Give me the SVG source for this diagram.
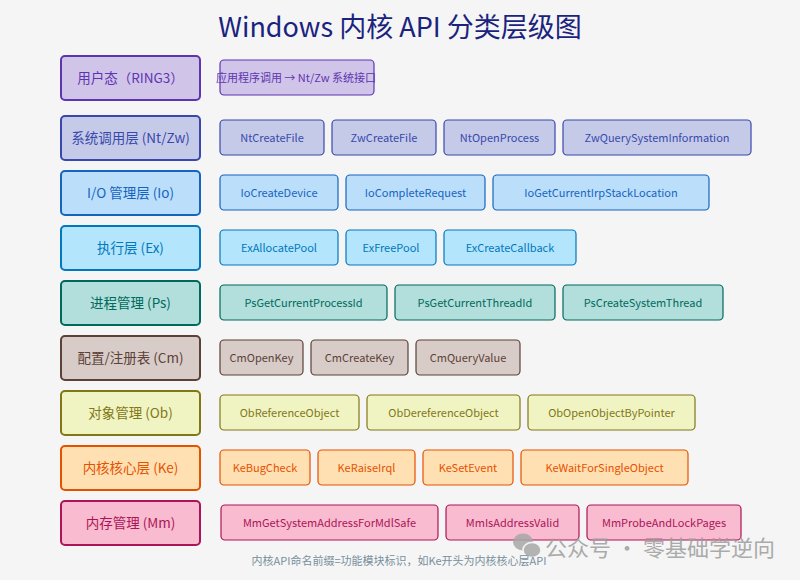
<svg xmlns="http://www.w3.org/2000/svg" width="800" height="580" viewBox="0 0 800 580">
<style>
text{font-family:"Noto Sans CJK SC","Noto Sans",sans-serif;text-anchor:middle;dominant-baseline:central;transform:translateY(-1px)}
.title{font-size:27px;fill:#1a237e}
.lbl{font-size:13.5px}
.api{font-size:11px}
.L{stroke-width:2}
.R{stroke-width:1.2}
.foot{font-size:11px;fill:#78909c}
.wm{font-size:22px;fill:#9e9e9e}
.u rect{fill:#d1c4e9;stroke:#5e35b1}.u text{fill:#5e35b1}
.n rect{fill:#c5cae9;stroke:#3949ab}.n text{fill:#3949ab}
.i rect{fill:#bbdefb;stroke:#1565c0}.i text{fill:#1565c0}
.e rect{fill:#b3e5fc;stroke:#0277bd}.e text{fill:#0277bd}
.p rect{fill:#b2dfdb;stroke:#00695c}.p text{fill:#00695c}
.c rect{fill:#d7ccc8;stroke:#5d4037}.c text{fill:#5d4037}
.o rect{fill:#f0f4c3;stroke:#827717}.o text{fill:#827717}
.k rect{fill:#ffe0b2;stroke:#e65100}.k text{fill:#e65100}
.m rect{fill:#f8bbd0;stroke:#ad1457}.m text{fill:#ad1457}
</style>
<rect width="800" height="580" fill="#f5f5f5"/>
<text class="title" x="400" y="26">Windows 内核 API 分类层级图</text>

<g id="row-user" class="u">
 <g id="layer-user"><rect class="L" x="61" y="56" width="139" height="44" rx="4"/><text class="lbl" x="130.5" y="78">用户态（RING3）</text></g>
 <g id="user-call"><rect class="R" x="220" y="60" width="154" height="35" rx="4"/><text class="api" x="296" y="78">应用程序调用 → Nt/Zw 系统接口</text></g>
</g>

<g id="row-nt" class="n">
 <g id="layer-nt"><rect class="L" x="61" y="116" width="139" height="44" rx="4"/><text class="lbl" x="130.5" y="138">系统调用层 (Nt/Zw)</text></g>
 <g id="NtCreateFile"><rect class="R" x="220" y="120" width="104" height="35" rx="4"/><text class="api" x="272" y="138">NtCreateFile</text></g>
 <g id="ZwCreateFile"><rect class="R" x="332" y="120" width="104" height="35" rx="4"/><text class="api" x="384" y="138">ZwCreateFile</text></g>
 <g id="NtOpenProcess"><rect class="R" x="444" y="120" width="111" height="35" rx="4"/><text class="api" x="499.5" y="138">NtOpenProcess</text></g>
 <g id="ZwQuerySystemInformation"><rect class="R" x="563" y="120" width="188" height="35" rx="4"/><text class="api" x="657" y="138">ZwQuerySystemInformation</text></g>
</g>

<g id="row-io" class="i">
 <g id="layer-io"><rect class="L" x="61" y="171" width="139" height="44" rx="4"/><text class="lbl" x="130.5" y="193">I/O 管理层 (Io)</text></g>
 <g id="IoCreateDevice"><rect class="R" x="220" y="175" width="118" height="35" rx="4"/><text class="api" x="279" y="193">IoCreateDevice</text></g>
 <g id="IoCompleteRequest"><rect class="R" x="346" y="175" width="139" height="35" rx="4"/><text class="api" x="415.5" y="193">IoCompleteRequest</text></g>
 <g id="IoGetCurrentIrpStackLocation"><rect class="R" x="493" y="175" width="216" height="35" rx="4"/><text class="api" x="601" y="193">IoGetCurrentIrpStackLocation</text></g>
</g>

<g id="row-ex" class="e">
 <g id="layer-ex"><rect class="L" x="61" y="226" width="139" height="44" rx="4"/><text class="lbl" x="130.5" y="248">执行层 (Ex)</text></g>
 <g id="ExAllocatePool"><rect class="R" x="220" y="230" width="118" height="35" rx="4"/><text class="api" x="279" y="248">ExAllocatePool</text></g>
 <g id="ExFreePool"><rect class="R" x="346" y="230" width="90" height="35" rx="4"/><text class="api" x="391" y="248">ExFreePool</text></g>
 <g id="ExCreateCallback"><rect class="R" x="444" y="230" width="132" height="35" rx="4"/><text class="api" x="510" y="248">ExCreateCallback</text></g>
</g>

<g id="row-ps" class="p">
 <g id="layer-ps"><rect class="L" x="61" y="281" width="139" height="44" rx="4"/><text class="lbl" x="130.5" y="303">进程管理 (Ps)</text></g>
 <g id="PsGetCurrentProcessId"><rect class="R" x="220" y="285" width="167" height="35" rx="4"/><text class="api" x="303.5" y="303">PsGetCurrentProcessId</text></g>
 <g id="PsGetCurrentThreadId"><rect class="R" x="395" y="285" width="160" height="35" rx="4"/><text class="api" x="475" y="303">PsGetCurrentThreadId</text></g>
 <g id="PsCreateSystemThread"><rect class="R" x="563" y="285" width="160" height="35" rx="4"/><text class="api" x="643" y="303">PsCreateSystemThread</text></g>
</g>

<g id="row-cm" class="c">
 <g id="layer-cm"><rect class="L" x="61" y="336" width="139" height="44" rx="4"/><text class="lbl" x="130.5" y="358">配置/注册表 (Cm)</text></g>
 <g id="CmOpenKey"><rect class="R" x="220" y="340" width="83" height="35" rx="4"/><text class="api" x="261.5" y="358">CmOpenKey</text></g>
 <g id="CmCreateKey"><rect class="R" x="311" y="340" width="97" height="35" rx="4"/><text class="api" x="359.5" y="358">CmCreateKey</text></g>
 <g id="CmQueryValue"><rect class="R" x="416" y="340" width="104" height="35" rx="4"/><text class="api" x="468" y="358">CmQueryValue</text></g>
</g>

<g id="row-ob" class="o">
 <g id="layer-ob"><rect class="L" x="61" y="391" width="139" height="44" rx="4"/><text class="lbl" x="130.5" y="413">对象管理 (Ob)</text></g>
 <g id="ObReferenceObject"><rect class="R" x="220" y="395" width="139" height="35" rx="4"/><text class="api" x="289.5" y="413">ObReferenceObject</text></g>
 <g id="ObDereferenceObject"><rect class="R" x="367" y="395" width="153" height="35" rx="4"/><text class="api" x="443.5" y="413">ObDereferenceObject</text></g>
 <g id="ObOpenObjectByPointer"><rect class="R" x="528" y="395" width="167" height="35" rx="4"/><text class="api" x="611.5" y="413">ObOpenObjectByPointer</text></g>
</g>

<g id="row-ke" class="k">
 <g id="layer-ke"><rect class="L" x="61" y="446" width="139" height="44" rx="4"/><text class="lbl" x="130.5" y="468">内核核心层 (Ke)</text></g>
 <g id="KeBugCheck"><rect class="R" x="220" y="450" width="90" height="35" rx="4"/><text class="api" x="265" y="468">KeBugCheck</text></g>
 <g id="KeRaiseIrql"><rect class="R" x="318" y="450" width="97" height="35" rx="4"/><text class="api" x="366.5" y="468">KeRaiseIrql</text></g>
 <g id="KeSetEvent"><rect class="R" x="423" y="450" width="90" height="35" rx="4"/><text class="api" x="468" y="468">KeSetEvent</text></g>
 <g id="KeWaitForSingleObject"><rect class="R" x="521" y="450" width="167" height="35" rx="4"/><text class="api" x="604.5" y="468">KeWaitForSingleObject</text></g>
</g>

<g id="row-mm" class="m">
 <g id="layer-mm"><rect class="L" x="61" y="501" width="139" height="44" rx="4"/><text class="lbl" x="130.5" y="523">内存管理 (Mm)</text></g>
 <g id="MmGetSystemAddressForMdlSafe"><rect class="R" x="221" y="505" width="217" height="35" rx="4"/><text class="api" x="329.5" y="523">MmGetSystemAddressForMdlSafe</text></g>
 <g id="MmIsAddressValid"><rect class="R" x="446" y="505" width="133" height="35" rx="4"/><text class="api" x="512.5" y="523">MmIsAddressValid</text></g>
 <g id="MmProbeAndLockPages"><rect class="R" x="587" y="505" width="154" height="35" rx="4"/><text class="api" x="664" y="523">MmProbeAndLockPages</text></g>
</g>

<g id="watermark" opacity="0.85">
 <ellipse cx="523" cy="542" rx="10" ry="8.5" fill="#a8a8a8"/>
 <ellipse cx="532" cy="550" rx="9" ry="7.5" fill="#a8a8a8" stroke="#f5f5f5" stroke-width="1.5"/>
 <text class="wm" x="660" y="547">公众号 · 零基础学逆向</text>
</g>
<text class="foot" x="399" y="561">内核API命名前缀=功能模块标识，如Ke开头为内核核心层API</text>
</svg>
